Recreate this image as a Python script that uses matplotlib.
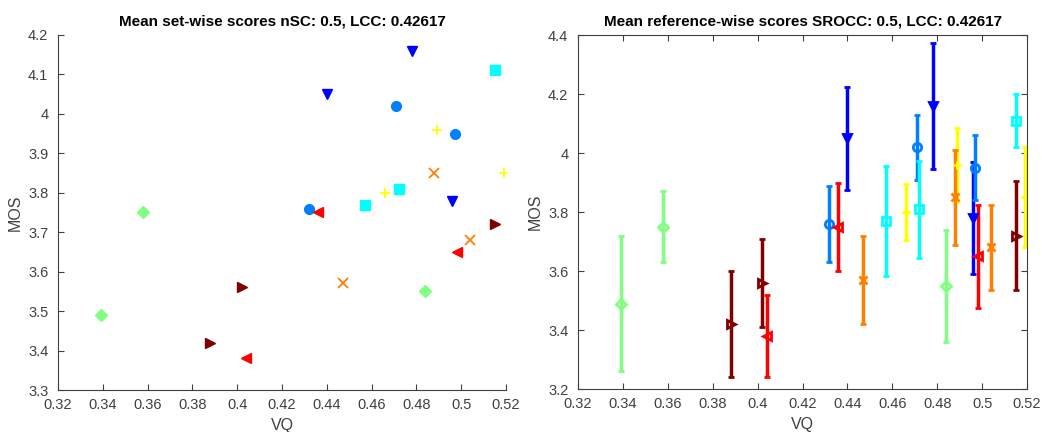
import matplotlib
matplotlib.use("Agg")
import matplotlib.pyplot as plt

plt.rcParams['font.family'] = ['Liberation Sans', 'DejaVu Sans']

# Eight condition groups, three references each (jet-style colour order)
group_colors = [(0, 0, 1), (0, 0.5, 1), (0, 1, 1), (0.5, 1, 0.5),
                (1, 1, 0), (1, 0.5, 0), (1, 0, 0), (0.5, 0, 0)]
group_markers = ['v', 'o', 's', 'D', '+', 'x', '<', '>']

vq_blue = [0.440, 0.478, 0.496]
vq_azure = [0.432, 0.471, 0.497]
vq_cyan = [0.457, 0.472, 0.515]
vq_green = [0.339, 0.358, 0.484]
vq_yellow = [0.466, 0.489, 0.519]
vq_orange = [0.447, 0.488, 0.504]
vq_red = [0.404, 0.436, 0.498]
vq_darkred = [0.388, 0.402, 0.515]

mos_blue = [4.05, 4.16, 3.78]
mos_azure = [3.76, 4.02, 3.95]
mos_cyan = [3.77, 3.81, 4.11]
mos_green = [3.49, 3.75, 3.55]
mos_yellow = [3.80, 3.96, 3.85]
mos_orange = [3.57, 3.85, 3.68]
mos_red = [3.38, 3.75, 3.65]
mos_darkred = [3.42, 3.56, 3.72]

err_blue = [0.175, 0.215, 0.19]
err_azure = [0.13, 0.11, 0.11]
err_cyan = [0.185, 0.165, 0.09]
err_green = [0.23, 0.12, 0.19]
err_yellow = [0.095, 0.125, 0.17]
err_orange = [0.15, 0.16, 0.145]
err_red = [0.14, 0.15, 0.175]
err_darkred = [0.18, 0.15, 0.185]

vq = [vq_blue, vq_azure, vq_cyan, vq_green, vq_yellow, vq_orange, vq_red, vq_darkred]
mos = [mos_blue, mos_azure, mos_cyan, mos_green, mos_yellow, mos_orange, mos_red, mos_darkred]
err = [err_blue, err_azure, err_cyan, err_green, err_yellow, err_orange, err_red, err_darkred]

x_ticks = [0.32, 0.34, 0.36, 0.38, 0.40, 0.42, 0.44, 0.46, 0.48, 0.50, 0.52]
x_labels = ['0.32', '0.34', '0.36', '0.38', '0.4', '0.42', '0.44', '0.46', '0.48', '0.5', '0.52']
y_ticks_left = [3.3, 3.4, 3.5, 3.6, 3.7, 3.8, 3.9, 4.0, 4.1, 4.2]
y_labels_left = ['3.3', '3.4', '3.5', '3.6', '3.7', '3.8', '3.9', '4', '4.1', '4.2']
y_ticks_right = [3.2, 3.4, 3.6, 3.8, 4.0, 4.2, 4.4]
y_labels_right = ['3.2', '3.4', '3.6', '3.8', '4', '4.2', '4.4']

title_left = 'Mean set-wise scores nSC: 0.5, LCC: 0.42617'
title_right = 'Mean reference-wise scores SROCC: 0.5, LCC: 0.42617'

axis_color = '#404040'
tick_fs = 10.5

fig = plt.figure(figsize=(10.42, 4.32), dpi=100)
ax1 = fig.add_axes([0.0557, 0.0972, 0.430, 0.822])
ax2 = fig.add_axes([0.5547, 0.0995, 0.431, 0.819])


def style_axes(ax, box):
    for side in ['left', 'bottom', 'top', 'right']:
        ax.spines[side].set_color(axis_color)
        ax.spines[side].set_linewidth(0.8)
    if not box:
        ax.spines['top'].set_visible(False)
        ax.spines['right'].set_visible(False)
    ax.tick_params(direction='in', length=4, width=0.8, color=axis_color,
                   labelcolor=axis_color, labelsize=tick_fs,
                   top=box, right=box)
    ax.tick_params(axis='x', pad=6)
    ax.tick_params(axis='y', pad=7)
    ax.set_xticks(x_ticks)
    ax.set_xticklabels(x_labels)
    ax.set_xlim(0.32, 0.52)
    ax.set_xlabel('VQ', fontsize=11.5, color=axis_color, labelpad=4)
    ax.set_ylabel('MOS', fontsize=11.5, color=axis_color, labelpad=4)


# Left: mean scores per set
for c, m, xs, ys in zip(group_colors, group_markers, vq, mos):
    if m in ('+', 'x'):
        ax1.plot(xs, ys, linestyle='none', marker=m, color=c, ms=7, mew=1.3)
    else:
        size = 6 if m == 'D' else 7
        ax1.plot(xs, ys, linestyle='none', marker=m, color=c, ms=size,
                 markerfacecolor=c, markeredgecolor=c)
style_axes(ax1, box=False)
ax1.set_ylim(3.3, 4.2)
ax1.set_yticks(y_ticks_left)
ax1.set_yticklabels(y_labels_left)
ax1.set_title(title_left, fontsize=11, fontweight='bold', pad=7)

# Right: per-reference means with error bars
for c, m, xs, ys, es in zip(group_colors, group_markers, vq, mos, err):
    size = 5 if m == 'D' else 6
    ax2.errorbar(xs, ys, yerr=es, linestyle='none', marker=m, color=c,
                 ecolor=c, elinewidth=2.5, capsize=2, capthick=2.5,
                 ms=size, mew=2, markerfacecolor='none', markeredgecolor=c)
style_axes(ax2, box=True)
ax2.set_ylim(3.2, 4.4)
ax2.set_yticks(y_ticks_right)
ax2.set_yticklabels(y_labels_right)
ax2.set_title(title_right, fontsize=11, fontweight='bold', pad=7)

fig.savefig('out.png', dpi=100)
